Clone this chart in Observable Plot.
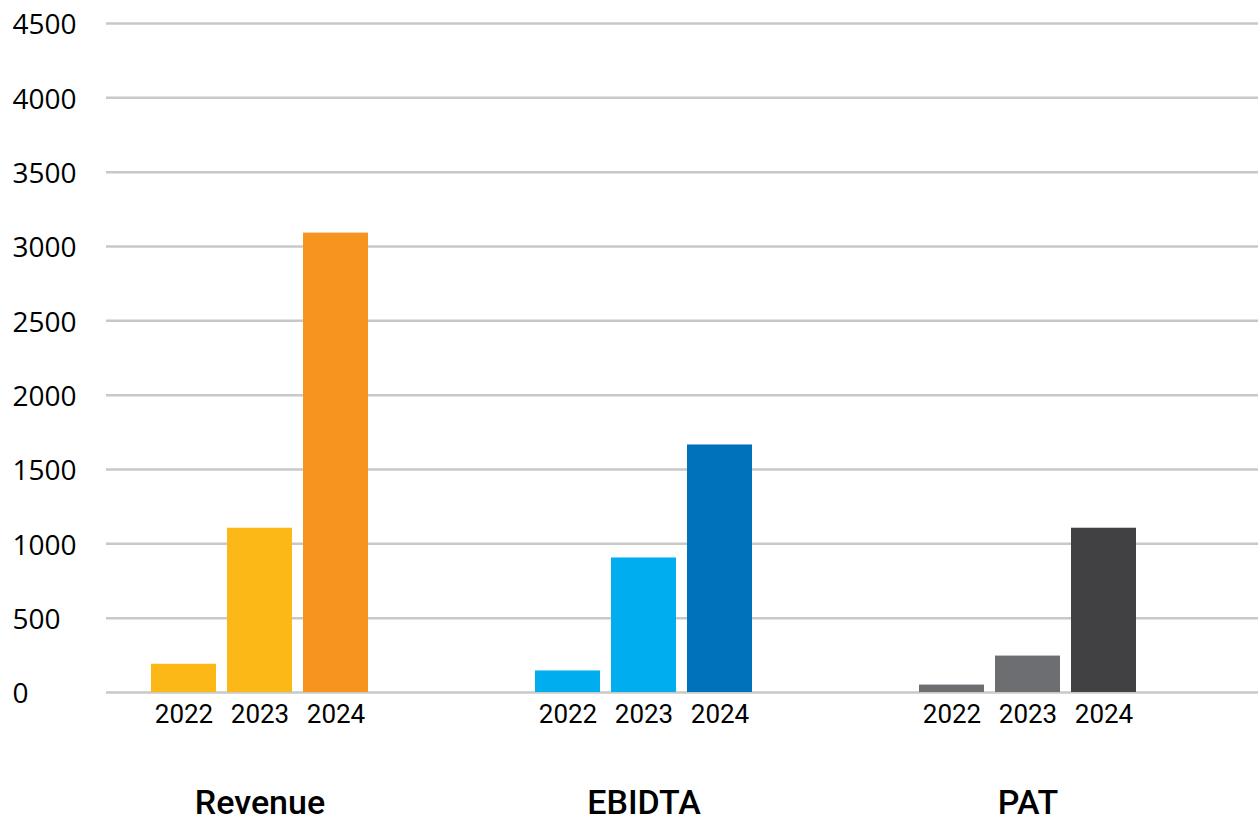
<!DOCTYPE html>
<html>
<head>
<meta charset="utf-8">
<script src="https://cdn.jsdelivr.net/npm/d3@7"></script>
<script src="https://cdn.jsdelivr.net/npm/@observablehq/plot@0.6"></script>
<style>
  html, body { margin: 0; padding: 0; background: #fff; }
  #chart svg { display: block; }
</style>
</head>
<body>
<div id="chart"></div>
<script>
const metrics = ["Revenue", "EBIDTA", "PAT"];
const years = ["2022", "2023", "2024"];
const revenue = [190, 1105, 3090];
const ebidta = [145, 905, 1665];
const pat = [50, 245, 1105];
const yTicks = [0, 500, 1000, 1500, 2000, 2500, 3000, 3500, 4000, 4500];

const revenueColors = ["#FCB817", "#FCB817", "#F7941F"];
const ebidtaColors = ["#00AEEF", "#00AEEF", "#0072BC"];
const patColors = ["#6D6E71", "#6D6E71", "#414042"];

const seriesValues = [revenue, ebidta, pat];
const seriesColors = [revenueColors, ebidtaColors, patColors];

const rows = [];
const colorDomain = [];
const colorRange = [];
metrics.forEach((m, i) => {
  years.forEach((y, j) => {
    rows.push({metric: m, year: y, value: seriesValues[i][j], key: m + " " + y});
    colorDomain.push(m + " " + y);
    colorRange.push(seriesColors[i][j]);
  });
});

const chart = Plot.plot({
  width: 1258,
  height: 823,
  marginTop: 23,
  marginBottom: 131,
  marginLeft: 105,
  marginRight: 0,
  style: {background: "#fff", color: "#000"},
  fx: {domain: metrics, padding: 0, axis: null, label: null},
  x: {domain: years, paddingInner: 0.15, paddingOuter: 0, insetLeft: 44, insetRight: 121, axis: null, label: null},
  y: {domain: [0, 4500], axis: null, label: null},
  color: {domain: colorDomain, range: colorRange},
  marks: [
    Plot.ruleY(yTicks, {stroke: "#C8C8C4", strokeWidth: 2.5}),
    Plot.barY(rows, {fx: "metric", x: "year", y: "value", fill: "key"}),
    Plot.axisY({
      ticks: yTicks,
      tickSize: 0,
      tickPadding: 0,
      textAnchor: "start",
      dx: -94,
      dy: 2,
      fontSize: 28,
      fontFamily: "Open Sans",
      fill: "#000",
      tickFormat: d => String(d),
      label: null
    }),
    Plot.axisX({
      tickSize: 0,
      tickPadding: 12,
      fontSize: 26,
      fontFamily: "Roboto",
      fill: "#000",
      label: null
    }),
    Plot.text(metrics, {
      fx: d => d,
      x: () => "2023",
      text: d => d,
      frameAnchor: "bottom",
      lineAnchor: "top",
      dy: 97,
      fontSize: 34,
      fontWeight: 500,
      fontFamily: "Roboto",
      fill: "#000"
    })
  ]
});
document.getElementById("chart").appendChild(chart);
</script>
</body>
</html>
